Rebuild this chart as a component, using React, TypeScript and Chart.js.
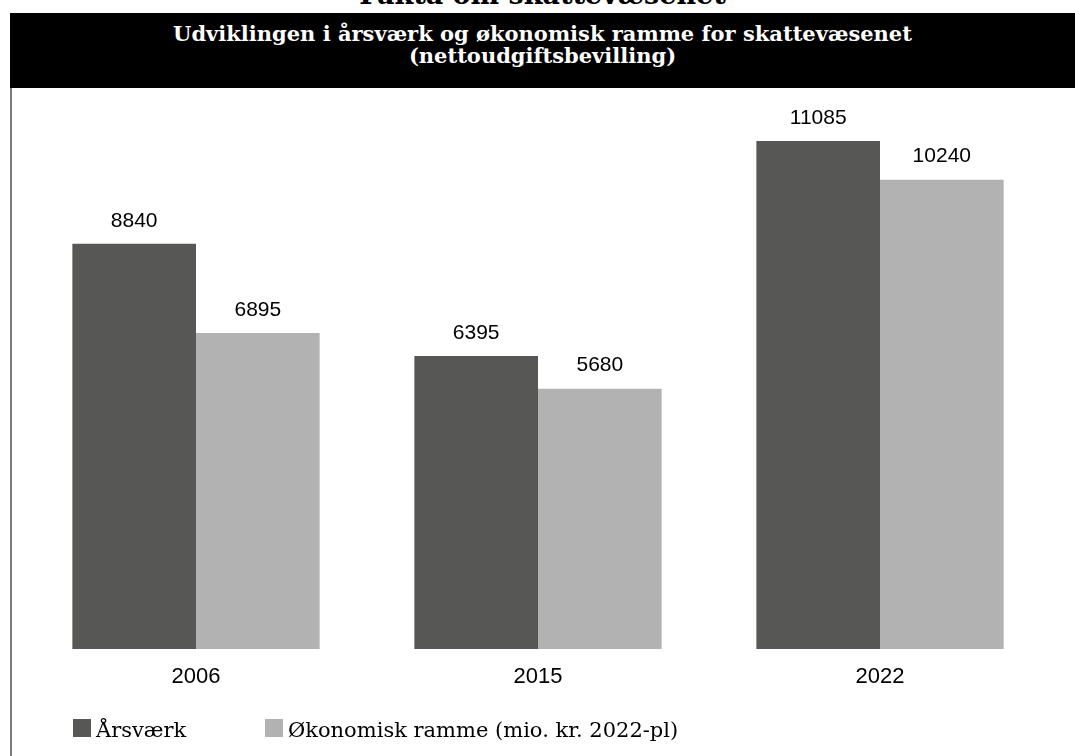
import { useEffect, useRef } from 'react';
import { Chart, registerables } from 'chart.js';

Chart.register(...registerables);

// data
const YEARS = ['2006', '2015', '2022'];
const AARSVAERK = [8840, 6395, 11085];
const RAMME = [6895, 5680, 10240];
const SERIES_NAMES = ['Årsværk', 'Økonomisk ramme (mio. kr. 2022-pl)'];
const Y_MAX = 12000;

const SERIF = '"DejaVu Serif", "Liberation Serif", serif';
const SANS = '"Liberation Sans", Arial, sans-serif';

// numbers above each bar
const valueLabels = {
    id: 'valueLabels',
    afterDatasetsDraw(chart: any) {
        const { ctx } = chart;
        ctx.save();
        ctx.font = `21px ${SANS}`;
        ctx.fillStyle = '#000';
        ctx.textAlign = 'center';
        ctx.textBaseline = 'middle';
        chart.data.datasets.forEach((ds: any, i: number) => {
            chart.getDatasetMeta(i).data.forEach((bar: any, j: number) => {
                ctx.fillText(String(ds.data[j]), bar.x, bar.y - 23);
            });
        });
        ctx.restore();
    },
};

// legend at the bottom left, drawn by hand
const bottomLegend = {
    id: 'bottomLegend',
    afterDraw(chart: any) {
        const { ctx, chartArea } = chart;
        const baseline = chartArea.bottom + 88;
        ctx.save();
        ctx.font = `21px ${SERIF}`;
        ctx.textAlign = 'left';
        ctx.textBaseline = 'alphabetic';
        chart.data.datasets.forEach((ds: any, i: number) => {
            const x = chartArea.left + 48 + i * 192;
            ctx.fillStyle = ds.backgroundColor;
            ctx.fillRect(x, baseline - 18, 18, 18);
            ctx.fillStyle = '#000';
            ctx.fillText(ds.label, x + 23, baseline);
        });
        ctx.restore();
    },
};

const App = () => {
    const chartRef = useRef<HTMLCanvasElement>(null);

    useEffect(() => {
        if (!chartRef.current) return;
        const myChart = new Chart(chartRef.current, {
            type: 'bar',
            data: {
                labels: YEARS,
                datasets: [
                    { label: SERIES_NAMES[0], data: AARSVAERK, backgroundColor: '#575756' },
                    { label: SERIES_NAMES[1], data: RAMME, backgroundColor: '#b2b2b2' },
                ],
            },
            options: {
                animation: false,
                responsive: true,
                maintainAspectRatio: false,
                layout: { padding: { left: 13, right: 24, top: 11, bottom: 57 } },
                datasets: {
                    bar: { barPercentage: 1, categoryPercentage: 0.723 },
                },
                scales: {
                    x: {
                        grid: { display: false, drawTicks: false },
                        border: { display: false },
                        ticks: { color: '#000', font: { family: SANS, size: 22 }, padding: 15 },
                        afterFit: (scale: any) => { scale.height = 50; },
                    },
                    y: { display: false, min: 0, max: Y_MAX },
                },
                plugins: {
                    legend: { display: false },
                    tooltip: { enabled: false },
                },
            },
            plugins: [valueLabels, bottomLegend],
        });
        return () => {
            myChart.destroy();
        };
    }, []);

    return (
        <div style={{ position: 'absolute', left: 0, top: 0, width: 1075, height: 756, overflow: 'hidden', background: '#fff' }}>
            {/* page heading, mostly cut off at the top */}
            <div style={{ position: 'absolute', left: 10, top: -19, width: 1065, textAlign: 'center', fontFamily: SERIF, fontWeight: 'bold', fontSize: 27, lineHeight: '28px', color: '#000' }}>
                Fakta om skattevæsenet
            </div>

            {/* black title bar */}
            <div style={{ position: 'absolute', left: 10, top: 13, width: 1065, height: 75, background: '#000', color: '#fff', textAlign: 'center', fontFamily: SERIF, fontWeight: 'bold', fontSize: 21, lineHeight: '22px', paddingTop: 10, boxSizing: 'border-box' }}>
                Udviklingen i årsværk og økonomisk ramme for skattevæsenet
                <br />
                (nettoudgiftsbevilling)
            </div>

            <div style={{ position: 'absolute', left: 10, top: 88, width: 2, height: 668, background: '#7a7a7a' }} />

            <div style={{ position: 'absolute', left: 12, top: 88, width: 1063, height: 668 }}>
                <canvas ref={chartRef} />
            </div>
        </div>
    );
};

export default App;
